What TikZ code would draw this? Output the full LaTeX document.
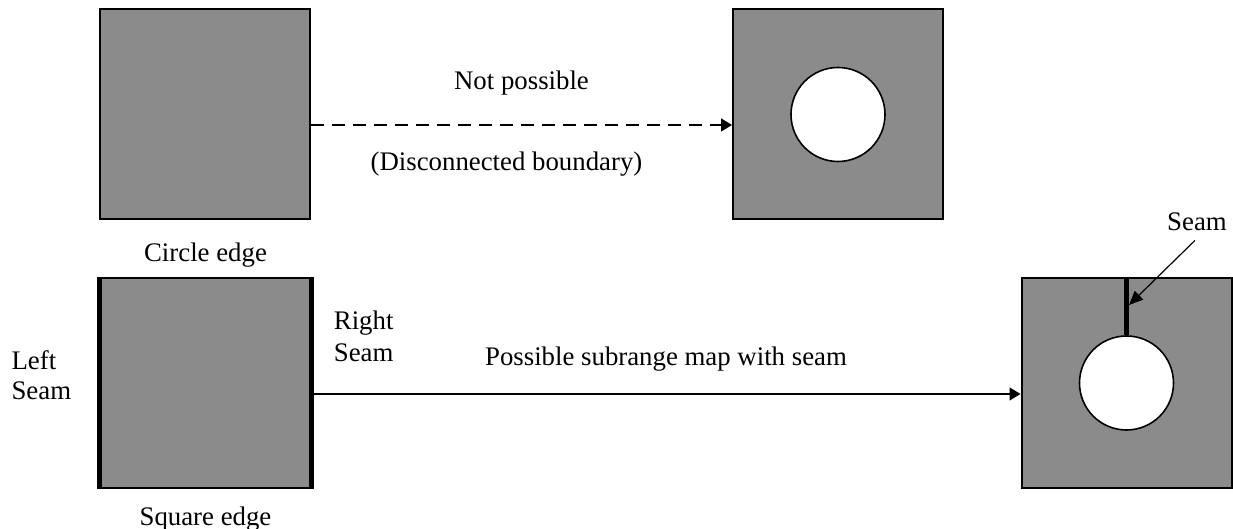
\documentclass[tikz,border=0pt]{standalone}
\usepackage{fontspec}
\setmainfont{Liberation Serif}
\usetikzlibrary{arrows.meta,positioning}
\definecolor{sheetgray}{HTML}{8B8B8B}
\tikzset{
  sheet/.style={draw=black,fill=sheetgray,line width=1pt,minimum width=105pt,minimum height=105pt,inner sep=0pt},
  hole/.style={circle,draw=black,fill=white,line width=0.8pt,minimum size=47pt,inner sep=0pt},
  seamline/.style={line width=2.4pt},
  maparrow/.style={-{Triangle[length=5.5pt,width=6.5pt]},line width=0.75pt},
  nomap/.style={maparrow,dash pattern=on 6.5pt off 4pt},
  pointer/.style={-{Triangle[length=7pt,width=6pt]},line width=0.6pt},
  note/.style={font=\fontsize{13.4}{15}\selectfont,align=left,inner sep=0pt}
}

\begin{document}
\begin{tikzpicture}[x=0.5pt,y=0.5pt]
  \useasboundingbox (0,0) rectangle (1233,529);
  % disconnected boundary: no map
  \node[sheet] (tl) at (205,414.5) {};
  \node[sheet] (tr) at (838,414.5) {};
  \node[hole] (trhole) at (tr) {};
  \draw[nomap] ([yshift=-5.25pt]tl.east) -- ([yshift=-5.25pt]tr.west)
    node[note,midway,yshift=21pt] (nolbl) {Not possible}
    node[note,midway,xshift=-7.5pt,yshift=-19.5pt] (whylbl) {(Disconnected boundary)};
  % seamed square onto the holed square
  \node[sheet] (bl) at (205.5,146) {};
  \draw[seamline] (bl.north west) -- (bl.south west);
  \draw[seamline] (bl.north east) -- (bl.south east);
  \node[note,above=4.5pt of bl] (circlbl) {Circle edge};
  \node[note,below=9pt of bl] (sqlbl) {Square edge};
  \node[note,left=14pt of bl,yshift=4pt] (leftlbl) {Left\\Seam};
  \node[note,anchor=north west,font=\fontsize{13.4}{16}\selectfont] (rightlbl) at ([xshift=11pt,yshift=-17pt]bl.north east) {Right\\Seam};
  \node[sheet] (br) at (1126.5,146) {};
  \node[hole] (brhole) at (br) {};
  \draw[seamline] (br.north) -- (brhole.north);
  \draw[maparrow] ([yshift=-5.5pt]bl.east) -- ([yshift=-5.5pt]br.west)
    node[note,midway,yshift=17.5pt] (maplbl) {Possible subrange map with seam};
  \node[note] (seamlbl) at (1197,307) {Seam};
  \coordinate (seamhit) at (1129,224);
  \draw[pointer] ([xshift=-1pt,yshift=-4.5pt]seamlbl.south) -- (seamhit);
\end{tikzpicture}
\end{document}
